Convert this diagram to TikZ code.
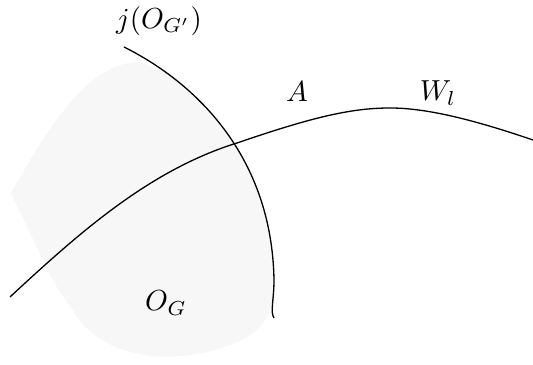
\documentclass[tikz,border=0pt]{standalone}
\usetikzlibrary{positioning}

\begin{document}
\begin{tikzpicture}[x=0.345pt, y=-0.345pt, curve/.style={line width=0.45pt}]
  \useasboundingbox (0,0) rectangle (533,365);
  % the open set O_G
  \fill[gray!6] (11,193) .. controls (55,115) and (92,62) .. (140,62)
    .. controls (195,78) and (272,162) .. (274,280)
    .. controls (274,325) and (255,338) .. (215,350)
    .. controls (160,365) and (105,355) .. (78,318)
    .. controls (65,300) and (55,285) .. (50,275) -- cycle;
  % j(O_G') and W_l
  \draw[curve] (124,47) .. controls (200,85) and (272,160) .. (274,280)
    .. controls (274,300) and (270,312) .. (274,318);
  \draw[curve] (10,297) .. controls (80,232) and (150,170) .. (237,143)
    .. controls (310,118) and (350,108) .. (390,108)
    .. controls (430,108) and (480,122) .. (533,140);
  \node (jO) at (159,21) {$j(O_{G'})$};
  \node (A) at (297,92) {$A$};
  \node (W) at (438,93) {$W_l$};
  \node (OG) at (166,303) {$O_G$};
\end{tikzpicture}
\end{document}
